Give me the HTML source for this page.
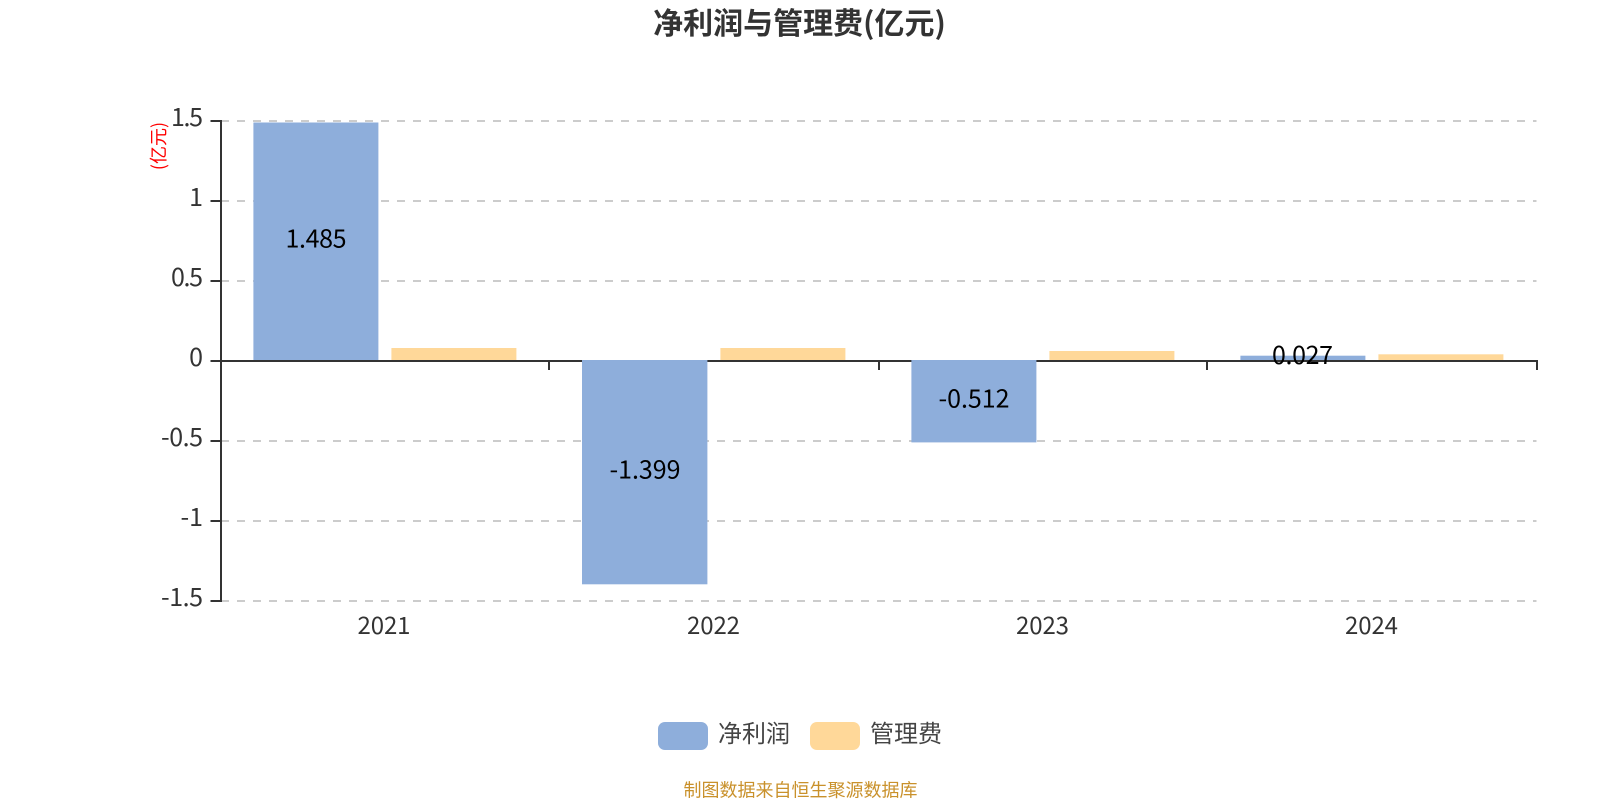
<!DOCTYPE html>
<html><head><meta charset="utf-8"><style>
html,body{margin:0;padding:0;background:#fff;width:1600px;height:800px;overflow:hidden}
svg{display:block}
text{font-family:"Noto Sans CJK SC","Liberation Sans",sans-serif}
</style></head><body>
<svg width="1600" height="800" viewBox="0 0 1600 800" xmlns="http://www.w3.org/2000/svg">
<rect width="1600" height="800" fill="#fff"/>
<text x="799.500" y="34" text-anchor="middle" font-size="30" font-weight="700" fill="#333">净利润与管理费(亿元)</text>
<g stroke="#ccc" stroke-width="2" stroke-dasharray="8 8" fill="none">
<path d="M221 121H1536.500M221 201H1536.500M221 281H1536.500M221 441H1536.500M221 521H1536.500M221 601H1536.500"/>
</g>
<g stroke="#333" stroke-width="2" fill="none">
<path d="M221 120V602"/>
<path d="M210.500 121H221M210.500 201H221M210.500 281H221M210.500 361H221M210.500 441H221M210.500 521H221M210.500 601H221"/>
<path d="M220 361H1538"/>
<path d="M549 361V370M879 361V370M1207 361V370M1537 361V370"/>
</g>
<g fill="#8eaedb">
<rect x="253.400" y="122.500" width="125" height="237.500"/>
<rect x="582" y="360" width="125.400" height="224.300"/>
<rect x="911.400" y="360" width="125" height="82.400"/>
<rect x="1240.400" y="355.700" width="125" height="4.300"/>
</g>
<g fill="#ffd899">
<rect x="391.400" y="348" width="125" height="12"/>
<rect x="720.400" y="348" width="125" height="12"/>
<rect x="1049.400" y="351" width="125" height="9"/>
<rect x="1378.400" y="354.300" width="125" height="5.700"/>
</g>
<g font-size="25" fill="#333" text-anchor="end">
<text x="203" y="126" textLength="32">1.5</text>
<text x="203" y="206">1</text>
<text x="203" y="286" textLength="32">0.5</text>
<text x="203" y="366">0</text>
<text x="203" y="446" textLength="42">-0.5</text>
<text x="203" y="526">-1</text>
<text x="203" y="606" textLength="42">-1.5</text>
</g>
<text transform="translate(165,146) rotate(-90)" text-anchor="middle" font-size="18" fill="#f00">(亿元)</text>
<g font-size="24" fill="#333" text-anchor="middle">
<text x="384" y="634" textLength="53">2021</text>
<text x="713.500" y="634" textLength="53">2022</text>
<text x="1042.500" y="634" textLength="53">2023</text>
<text x="1371.500" y="634" textLength="53">2024</text>
</g>
<g font-size="25" fill="#000" text-anchor="middle">
<text x="316" y="247.700" textLength="61">1.485</text>
<text x="645" y="478.400" textLength="71">-1.399</text>
<text x="974" y="407.500" textLength="71">-0.512</text>
<text x="1302.500" y="364" textLength="61">0.027</text>
</g>
<rect x="658" y="722" width="50" height="28" rx="7" fill="#8eaedb"/>
<rect x="810" y="722" width="50" height="28" rx="7" fill="#ffd899"/>
<g font-size="24" fill="#444">
<text x="718" y="742">净利润</text>
<text x="870" y="742">管理费</text>
</g>
<text x="800.500" y="796.500" text-anchor="middle" font-size="18" fill="#c9912b">制图数据来自恒生聚源数据库</text>
</svg>
</body></html>
